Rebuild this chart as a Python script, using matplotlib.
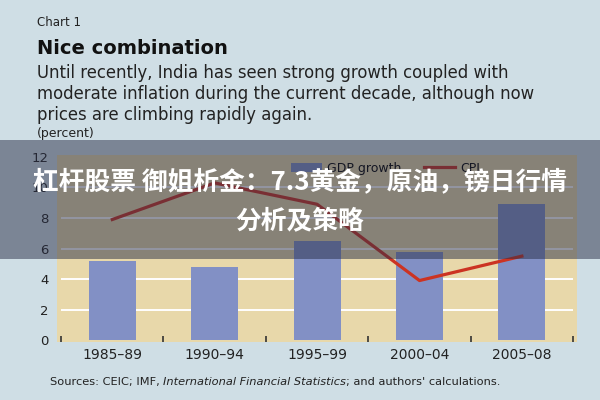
import matplotlib
matplotlib.use("Agg")
import matplotlib.pyplot as plt
from matplotlib.patches import Rectangle

# 데이터
periods = ["1985–89", "1990–94", "1995–99", "2000–04", "2005–08"]
gdp_growth = [5.2, 4.8, 6.5, 5.8, 8.9]
cpi = [7.9, 10.3, 8.9, 3.9, 5.5]
yticks = [0, 2, 4, 6, 8, 10, 12]

bg = "#cfdee5"
beige = "#e8d8aa"
bar_c = "#8290c5"
line_c = "#cc3322"
txt_c = "#222222"

fig = plt.figure(figsize=(6, 4), dpi=100, facecolor=bg)
ax = fig.add_axes([0.095, 0.145, 0.867, 0.4675])
ax.set_facecolor(beige)

x = list(range(len(periods)))
ax.hlines([2, 4, 6, 8, 10], -0.5, 4.5, colors="white", linewidth=1.4, zorder=1)
bars = ax.bar(x, gdp_growth, width=0.46, color=bar_c, zorder=2, label="GDP growth")
line, = ax.plot(x, cpi, color=line_c, linewidth=2.3, zorder=3, label="CPI")

ax.set_xlim(-0.54, 4.54)
ax.set_ylim(-0.13, 12.13)
ax.set_yticks(yticks)
ax.set_xticks(x)
ax.set_xticklabels(periods, fontsize=10, color=txt_c)
ax.set_xticks([i - 0.5 for i in range(6)], minor=True)
ax.tick_params(axis="x", which="major", length=0, pad=4)
ax.tick_params(axis="x", which="minor", direction="in", length=4, width=1.2, color="#333333")
ax.tick_params(axis="y", length=0, labelsize=9.5, labelcolor=txt_c, pad=6)
for s in ax.spines.values():
    s.set_visible(False)

ax.legend([bars, line], ["GDP growth", "CPI"], loc="upper left",
          bbox_to_anchor=(0.45, 0.965), borderaxespad=0, borderpad=0,
          ncol=2, frameon=False, fontsize=9, handlelength=2.5,
          columnspacing=1.8, handletextpad=0.4)

# 제목
fig.text(0.062, 0.935, "Chart 1", fontsize=8.5, color=txt_c)
fig.text(0.062, 0.866, "Nice combination", fontsize=14, fontweight="bold", color="#111111")
fig.text(0.062, 0.700,
         "Until recently, India has seen strong growth coupled with\n"
         "moderate inflation during the current decade, although now\n"
         "prices are climbing rapidly again.",
         fontsize=11.9, color=txt_c, linespacing=1.2)
fig.text(0.062, 0.657, "(percent)", fontsize=9, color=txt_c)

# 출처
r = fig.canvas.get_renderer()
src_x, src_y = 0.083, 0.038
for part, st in [("Sources: CEIC; IMF, ", "normal"),
                 ("International Financial Statistics", "italic"),
                 ("; and authors' calculations.", "normal")]:
    t = fig.text(src_x, src_y, part, fontsize=8.2, color=txt_c, style=st)
    bb = t.get_window_extent(renderer=r)
    src_x += bb.width / fig.bbox.width

# 오버레이
fig.patches.append(Rectangle((0, 0.3525), 1, 0.2975, transform=fig.transFigure,
                             facecolor="#282d46", alpha=0.5, zorder=10))
fig.text(0.5, 0.497, "杠杆股票 御姐析金：7.3黄金，原油，镑日行情\n分析及策略",
         ha="center", va="center", fontsize=18.5, fontweight="bold", color="white",
         family=["Noto Sans CJK SC", "DejaVu Sans"], linespacing=1.6, zorder=11)

plt.savefig("out.png", dpi=100, facecolor=bg)
